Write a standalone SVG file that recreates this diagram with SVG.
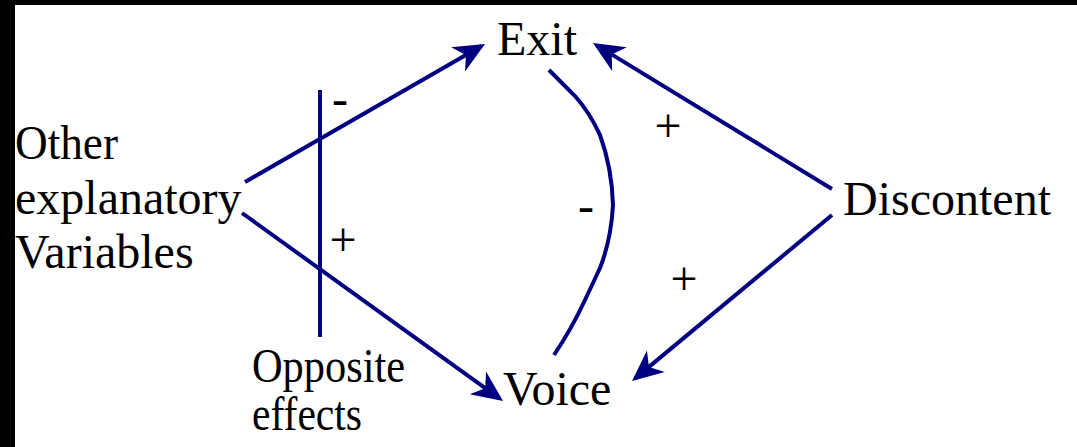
<svg xmlns="http://www.w3.org/2000/svg" width="1077" height="447" viewBox="0 0 1077 447">
<style>
  .t{font-family:'Liberation Serif','DejaVu Serif',serif;font-size:48px;fill:#000}
  .c{fill:none;stroke:#000080;stroke-width:4}
  .s{font-family:'Liberation Serif','DejaVu Serif',serif;font-size:48px;fill:#000;text-anchor:middle}
</style>
<defs>
  <marker id="ah" markerUnits="userSpaceOnUse" orient="auto" markerWidth="40" markerHeight="40" refX="0" refY="0" viewBox="-32 -16 40 32" overflow="visible">
    <path d="M4,0 L-27,-14 L-18,0 L-27,14 Z" fill="#000080"/>
  </marker>
</defs>
<rect width="1077" height="447" fill="#fff"/>
<rect x="0" y="0" width="1077" height="5" fill="#000"/>
<rect x="0" y="0" width="15" height="447" fill="#000"/>

<g id="connectors">
  <line class="c" x1="245" y1="182" x2="481.5" y2="46" marker-end="url(#ah)"/>
  <line class="c" x1="242" y1="213" x2="499.8" y2="398.7" marker-end="url(#ah)"/>
  <line class="c" x1="832" y1="189" x2="596.4" y2="45.1" marker-end="url(#ah)"/>
  <line class="c" x1="832" y1="215" x2="635.1" y2="378.4" marker-end="url(#ah)"/>
  <path class="c" d="M549,70 L575,96 Q590,113 600,135 Q612,168 613,205 Q611,240 600,268 L585,300 Q571,330 554,355"/>
</g>

<g id="signs">
  <text class="s" x="340" y="115">-</text>
  <text class="s" x="343" y="256">+</text>
  <text class="s" x="668" y="142">+</text>
  <text class="s" x="586" y="222">-</text>
  <text class="s" x="684" y="295">+</text>
</g>

<g id="exit"><text class="t" x="497" y="55">Exit</text></g>
<g id="voice"><text class="t" x="503" y="405">Voice</text></g>
<g id="discontent"><text class="t" x="843" y="215">Discontent</text></g>
<g id="other">
  <text class="t" x="15" y="159" textLength="103" lengthAdjust="spacingAndGlyphs">Other</text>
  <text class="t" x="15" y="214">explanatory</text>
  <text class="t" x="15" y="268">Variables</text>
</g>
<g id="opposite">
  <line class="c" x1="320" y1="90" x2="320" y2="337"/>
  <text class="t" x="252" y="382" textLength="153" lengthAdjust="spacingAndGlyphs">Opposite</text>
  <text class="t" x="252" y="430" textLength="110" lengthAdjust="spacingAndGlyphs">effects</text>
</g>
</svg>
